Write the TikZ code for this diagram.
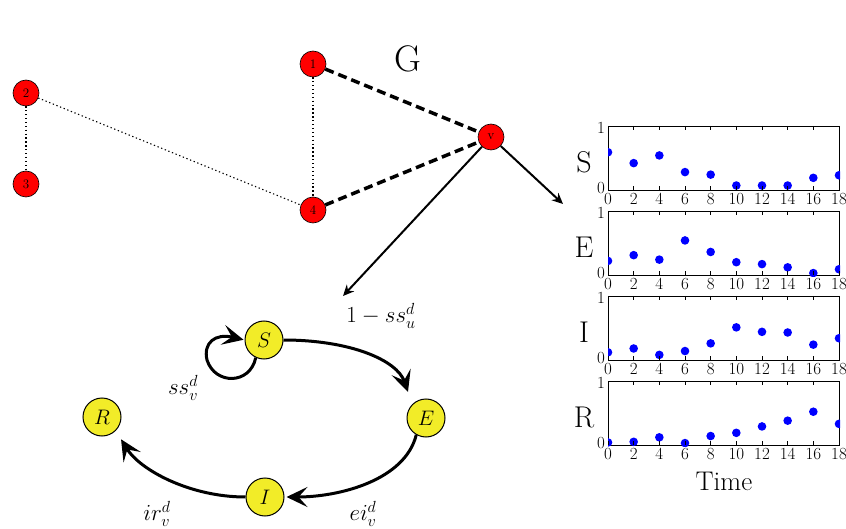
\RequirePackage{fix-cm}
\documentclass[tikz,border=0pt]{standalone}
\usetikzlibrary{arrows.meta}
\definecolor{ylw}{RGB}{242,236,40}
\newcommand\fs[1]{\fontsize{#1}{#1}\selectfont}
\tikzset{
  rnode/.style={circle, fill=red, draw=black, line width=0.6pt, minimum size=26pt, inner sep=0pt, font=\fs{13}},
  ynode/.style={circle, fill=ylw, draw=black, line width=1pt, minimum size=38pt, inner sep=0pt, font=\fs{21}},
  thinedge/.style={dash pattern=on 1.3pt off 2.6pt, line width=1.1pt},
  thickedge/.style={dash pattern=on 9pt off 5pt, line width=3.5pt},
  varr/.style={line width=2pt, -{Stealth[length=11pt,width=10pt]}},
  sarr/.style={line width=3pt, -{Stealth[length=21pt,width=20pt,inset=9pt]}},
  panelbox/.style={draw=black, line width=1.2pt, minimum width=231pt, minimum height=64pt, inner sep=0pt, anchor=north west},
  ticklab/.style={font=\fs{17}, inner sep=0pt},
  bigletter/.style={font=\fs{30}, inner sep=0pt},
  mlabel/.style={font=\fs{23}, inner sep=0pt},
}
% #1 name, #2 top y, #3 letter, #4 data list t/v
\newcommand\plotpanel[4]{%
  \node[panelbox] (#1) at (608,#2) {};
  \begin{scope}
    \clip (#1.south west) rectangle (#1.north east);
    \foreach \t/\v in {#4} {
      \fill[blue] ({608+12.833*\t},{#2+64-\v*64}) circle (4.3pt);
    }
  \end{scope}
  \foreach \t in {0,2,...,18} {
    \draw[line width=0.8pt] ({608+12.833*\t},{#2+64}) -- ++(0,-4);
    \draw[line width=0.8pt] ({608+12.833*\t},{#2}) -- ++(0,4);
    \node[ticklab] (#1x\t) at ({608+12.833*\t},{#2+73}) {\t};
  }
  \node[ticklab, anchor=east] (#1y1) at (605,#2+2) {1};
  \node[ticklab, anchor=east] (#1y0) at (605,#2+62) {0};
  \node[bigletter] (#1L) at (584,#2+36) {#3};
}
\begin{document}
\begin{tikzpicture}[x=1pt,y=-1pt]
\useasboundingbox (0,0) rectangle (846,529);
\fill[white] (0,0) rectangle (846,529);

% graph G
\node[rnode] (n1) at (313,64) {1};
\node[rnode] (n2) at (26,93) {2};
\node[rnode] (n3) at (26,184) {3};
\node[rnode] (n4) at (313,210) {4};
\node[rnode] (nv) at (491,137) {v};
\node[font=\fs{37}, inner sep=0pt] (G) at (408,59) {G};

\draw[thinedge] (n2) -- (n3);
\draw[thinedge] (n2) -- (n4);
\draw[thinedge] (n1) -- (n4);
\draw[thickedge] (n1) -- (nv);
\draw[thickedge] (n4) -- (nv);

\coordinate (a1) at (343,296);
\coordinate (a2) at (563,204);
\draw[varr] (nv) -- (a1);
\draw[varr] (nv) -- (a2);

% plots
\plotpanel{pS}{126}{S}{0/0.59,2/0.42,4/0.54,6/0.28,8/0.24,10/0.07,12/0.07,14/0.07,16/0.19,18/0.23}
\plotpanel{pE}{211}{E}{0/0.22,2/0.31,4/0.24,6/0.54,8/0.36,10/0.2,12/0.17,14/0.12,16/0.03,18/0.09}
\plotpanel{pI}{296}{I}{0/0.12,2/0.18,4/0.08,6/0.14,8/0.26,10/0.51,12/0.44,14/0.43,16/0.24,18/0.34}
\plotpanel{pR}{381}{R}{0/0.04,2/0.05,4/0.12,6/0.03,8/0.14,10/0.19,12/0.29,14/0.38,16/0.52,18/0.33}
\node[font=\fs{27}, inner sep=0pt] (time) at (724,481) {Time};

% SEIR
\node[ynode] (S) at (264,340) {$S$};
\node[ynode] (E) at (426,418) {$E$};
\node[ynode] (I) at (265,497) {$I$};
\node[ynode] (R) at (102,417) {$R$};

\draw[sarr, shorten >=13pt] (S.east) .. controls (350,340) and (397,360) .. (E.north west);
\draw[sarr, shorten >=2pt] (E.240) .. controls (405,480) and (340,497) .. (I.east);
\draw[sarr, shorten >=10pt] (I.west) .. controls (190,497) and (140,470) .. (R.south east);
\draw[sarr, shorten >=1pt] (S.245) .. controls (250,385) and (215,385) .. (207,360)
   .. controls (203,343) and (215,333) .. (S.west);

\node[mlabel] (l1) at (381,316) {$1-ss_u^d$};
\node[mlabel] (l2) at (183,388) {$ss_v^d$};
\node[mlabel] (l3) at (363,514) {$ei_v^d$};
\node[mlabel] (l4) at (157,514) {$ir_v^d$};
\end{tikzpicture}
\end{document}
